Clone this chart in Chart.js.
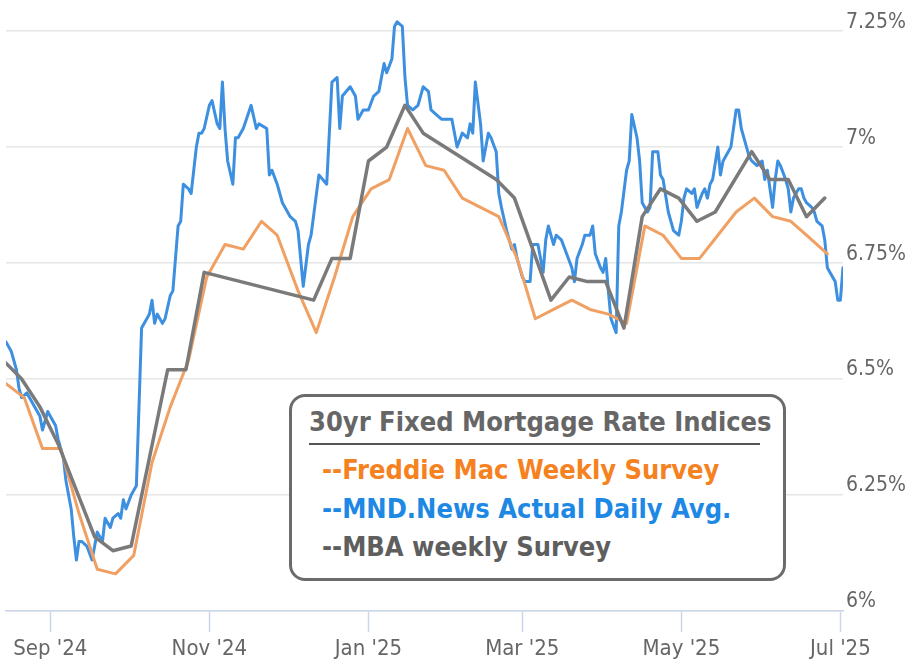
<!DOCTYPE html>
<html>
<head>
<meta charset="utf-8">
<title>30yr Fixed Mortgage Rate Indices</title>
<script src="https://cdn.jsdelivr.net/npm/chart.js@4.4.1/dist/chart.umd.min.js"></script>
<style>
  body { margin: 0; background: #fff; }
  #wrap { position: relative; width: 914px; height: 666px; }
  #legendBox {
    position: absolute; left: 289px; top: 394px; width: 491px; height: 181px;
    border: 3px solid #6b6b6b; border-radius: 16px; background: #fff;
    font-family: "DejaVu Sans Condensed", "DejaVu Sans", sans-serif; font-weight: bold;
  }
  #legendBox .ttl {
    position: absolute; top: 4px; left: 17px; width: 451px; height: 42px;
    line-height: 42px; text-align: center; font-size: 27px; color: #666;
    border-bottom: 2.5px solid #555; white-space: nowrap;
  }
  #legendBox .items { position: absolute; top: 54px; left: 30px; font-size: 27px; line-height: 38.5px; white-space: nowrap; }
</style>
</head>
<body>
<div id="wrap">
  <canvas id="rates" width="914" height="666"></canvas>
  <div id="legendBox"></div>
</div>
<script>
// axis range and ticks
const xStart = '2024-08-15';
const xEnd = '2025-07-02';
const monthTicks = ['2024-09-01', '2024-11-01', '2025-01-01', '2025-03-01', '2025-05-01', '2025-07-01'];
const monthLabels = ["Sep '24", "Nov '24", "Jan '25", "Mar '25", "May '25", "Jul '25"];
const rateTicks = [6, 6.25, 6.5, 6.75, 7, 7.25];

const legendTitle = '30yr Fixed Mortgage Rate Indices';
const seriesNames = ['Freddie Mac Weekly Survey', 'MND.News Actual Daily Avg.', 'MBA weekly Survey'];

// Freddie Mac weekly survey
const freddieDates = ['2024-08-15','2024-08-22','2024-08-29','2024-09-05','2024-09-12','2024-09-19','2024-09-26',
  '2024-10-03','2024-10-10','2024-10-17','2024-10-24','2024-10-31','2024-11-07','2024-11-14','2024-11-21','2024-11-27',
  '2024-12-05','2024-12-12','2024-12-19','2024-12-26','2025-01-02','2025-01-09','2025-01-16','2025-01-23','2025-01-30',
  '2025-02-06','2025-02-13','2025-02-20','2025-02-27','2025-03-06','2025-03-13','2025-03-20','2025-03-27','2025-04-03',
  '2025-04-10','2025-04-17','2025-04-24','2025-05-01','2025-05-08','2025-05-15','2025-05-22','2025-05-29','2025-06-05',
  '2025-06-12','2025-06-18','2025-06-26'];
const freddieRates = [6.49,6.46,6.35,6.35,6.21,6.09,6.08,
  6.12,6.32,6.44,6.54,6.72,6.79,6.78,6.84,6.81,
  6.69,6.60,6.72,6.85,6.91,6.93,7.04,6.96,6.95,
  6.89,6.87,6.85,6.76,6.63,6.65,6.67,6.65,6.64,
  6.62,6.83,6.81,6.76,6.76,6.81,6.86,6.89,6.85,
  6.84,6.81,6.77];

// MBA weekly survey
const mbaDates = ['2024-08-14','2024-08-21','2024-08-28','2024-09-04','2024-09-11','2024-09-18','2024-09-25',
  '2024-10-02','2024-10-16','2024-10-23','2024-10-30','2024-12-11','2024-12-18','2024-12-25','2025-01-01',
  '2025-01-08','2025-01-15','2025-01-22','2025-02-19','2025-02-26','2025-03-12','2025-03-19','2025-03-26',
  '2025-04-02','2025-04-09','2025-04-16','2025-04-23','2025-04-30','2025-05-07','2025-05-14','2025-05-28',
  '2025-06-04','2025-06-11','2025-06-18','2025-06-25'];
const mbaRates = [6.54,6.50,6.44,6.36,6.26,6.16,6.13,
  6.14,6.52,6.52,6.73,6.67,6.76,6.76,6.97,
  7.00,7.09,7.03,6.93,6.89,6.67,6.72,6.71,
  6.71,6.61,6.85,6.91,6.89,6.84,6.86,6.99,
  6.93,6.93,6.85,6.89];

// MND daily index
const mndDates = ['2024-08-15','2024-08-17','2024-08-19','2024-08-20','2024-08-21','2024-08-23','2024-08-25','2024-08-27',
  '2024-08-28','2024-08-29','2024-08-31','2024-09-01','2024-09-03','2024-09-04','2024-09-06','2024-09-07','2024-09-09',
  '2024-09-10','2024-09-11','2024-09-12','2024-09-13','2024-09-15','2024-09-17','2024-09-18','2024-09-19','2024-09-21',
  '2024-09-22','2024-09-24','2024-09-25','2024-09-27','2024-09-28','2024-09-29','2024-09-30','2024-10-02','2024-10-04',
  '2024-10-06','2024-10-08','2024-10-09','2024-10-10','2024-10-11','2024-10-12','2024-10-14','2024-10-15','2024-10-17',
  '2024-10-18','2024-10-20','2024-10-21','2024-10-22','2024-10-24','2024-10-25','2024-10-27','2024-10-28','2024-10-29',
  '2024-10-30','2024-11-01','2024-11-02','2024-11-04','2024-11-05','2024-11-06','2024-11-07','2024-11-08','2024-11-10',
  '2024-11-11','2024-11-12','2024-11-14','2024-11-17','2024-11-19','2024-11-20','2024-11-23','2024-11-24','2024-11-25',
  '2024-11-27','2024-11-29','2024-12-02','2024-12-04','2024-12-05','2024-12-07','2024-12-09','2024-12-10','2024-12-13',
  '2024-12-16','2024-12-18','2024-12-20','2024-12-21','2024-12-22','2024-12-25','2024-12-27','2024-12-28','2024-12-30',
  '2025-01-01','2025-01-03','2025-01-05','2025-01-07','2025-01-08','2025-01-10','2025-01-11','2025-01-12','2025-01-14',
  '2025-01-15','2025-01-16','2025-01-18','2025-01-20','2025-01-22','2025-01-24','2025-01-25','2025-01-27','2025-01-29',
  '2025-02-02','2025-02-04','2025-02-06','2025-02-08','2025-02-09','2025-02-10','2025-02-11','2025-02-13','2025-02-14',
  '2025-02-16','2025-02-17','2025-02-19','2025-02-20','2025-02-21','2025-02-23','2025-02-25','2025-02-26','2025-02-27',
  '2025-03-01','2025-03-02','2025-03-04','2025-03-05','2025-03-07','2025-03-09','2025-03-10','2025-03-11','2025-03-13',
  '2025-03-14','2025-03-16','2025-03-18','2025-03-20','2025-03-21','2025-03-22','2025-03-24','2025-03-25','2025-03-27',
  '2025-03-28','2025-03-29','2025-03-31','2025-04-01','2025-04-02','2025-04-03','2025-04-04','2025-04-06','2025-04-07',
  '2025-04-08','2025-04-10','2025-04-11','2025-04-12','2025-04-14','2025-04-15','2025-04-16','2025-04-18','2025-04-19',
  '2025-04-20','2025-04-22','2025-04-23','2025-04-24','2025-04-26','2025-04-28','2025-04-30','2025-05-01','2025-05-02',
  '2025-05-03','2025-05-05','2025-05-06','2025-05-07','2025-05-09','2025-05-10','2025-05-11','2025-05-12','2025-05-13',
  '2025-05-15','2025-05-16','2025-05-17','2025-05-19','2025-05-20','2025-05-21','2025-05-22','2025-05-23','2025-05-24',
  '2025-05-26','2025-05-27','2025-05-28','2025-05-30','2025-06-01','2025-06-02','2025-06-03','2025-06-05','2025-06-06',
  '2025-06-07','2025-06-08','2025-06-10','2025-06-11','2025-06-12','2025-06-13','2025-06-15','2025-06-16','2025-06-17',
  '2025-06-18','2025-06-20','2025-06-21','2025-06-22','2025-06-24','2025-06-25','2025-06-26','2025-06-28','2025-06-29',
  '2025-06-30','2025-07-01','2025-07-02'];
const mndRates = [6.58,6.56,6.52,6.48,6.46,6.47,6.45,6.43,
  6.42,6.39,6.43,6.42,6.40,6.37,6.33,6.28,6.22,
  6.16,6.11,6.15,6.15,6.14,6.11,6.14,6.17,6.15,
  6.20,6.18,6.20,6.21,6.20,6.24,6.22,6.25,6.27,
  6.61,6.63,6.64,6.67,6.62,6.64,6.62,6.63,6.68,
  6.69,6.83,6.84,6.92,6.91,6.90,7.00,7.03,7.03,
  7.04,7.09,7.10,7.05,7.04,7.14,7.04,6.97,6.92,
  7.02,7.02,7.04,7.09,7.04,7.05,7.04,6.94,6.95,
  6.92,6.88,6.85,6.84,6.82,6.70,6.79,6.81,6.94,
  6.92,7.14,7.15,7.04,7.11,7.13,7.11,7.06,7.08,
  7.08,7.11,7.12,7.18,7.16,7.19,7.26,7.27,7.26,
  7.15,7.09,7.08,7.09,7.13,7.12,7.08,7.07,7.06,
  7.06,7.00,7.03,7.02,7.05,7.03,7.14,7.05,6.97,
  7.03,7.02,6.99,6.90,6.87,6.82,6.78,6.79,6.76,
  6.72,6.71,6.71,6.79,6.79,6.73,6.80,6.83,6.79,
  6.81,6.80,6.77,6.74,6.71,6.76,6.79,6.81,6.81,
  6.83,6.77,6.74,6.73,6.76,6.69,6.63,6.60,6.83,
  6.86,6.95,6.97,7.07,7.02,6.97,6.88,6.86,6.87,
  6.99,6.99,6.94,6.93,6.86,6.82,6.81,6.84,6.89,
  6.91,6.90,6.91,6.87,6.90,6.91,6.89,6.92,6.93,
  7.00,6.94,6.97,6.99,7.00,7.04,7.08,7.08,7.04,
  7.00,6.98,6.97,6.96,6.97,6.93,6.95,6.87,6.93,
  6.97,6.96,6.93,6.91,6.86,6.89,6.91,6.91,6.89,
  6.88,6.87,6.86,6.84,6.83,6.80,6.74,6.72,6.71,
  6.67,6.67,6.74];

const day = s => Date.parse(s + 'T00:00:00Z') / 86400000;
const toPoints = (dates, rates) => dates.map((d, i) => ({ x: day(d), y: rates[i] }));

const fontFamily = '"DejaVu Sans Condensed", "DejaVu Sans", sans-serif';
const lineColors = ['#f0a062', '#3d8fe0', '#7a7a7a'];
const legendColors = ['#f5821f', '#1e88e5', '#5e5e5e'];

// drop the extra room Chart.js keeps for edge labels
const noEdgePadding = s => { s.paddingTop = 0; s.paddingBottom = 0; s.paddingLeft = 0; s.paddingRight = 0; };

const chart = new Chart(document.getElementById('rates'), {
  type: 'line',
  data: {
    datasets: [
      { label: seriesNames[0], data: toPoints(freddieDates, freddieRates), borderColor: lineColors[0], borderWidth: 3, order: 1 },
      { label: seriesNames[1], data: toPoints(mndDates, mndRates), borderColor: lineColors[1], borderWidth: 3, order: 2 },
      { label: seriesNames[2], data: toPoints(mbaDates, mbaRates), borderColor: lineColors[2], borderWidth: 3.5, order: 0 }
    ]
  },
  options: {
    responsive: false,
    animation: false,
    elements: {
      point: { radius: 0 },
      line: { tension: 0, borderJoinStyle: 'round', borderCapStyle: 'round' }
    },
    layout: { padding: { left: 6, top: 0, right: 0, bottom: 0 } },
    plugins: { legend: { display: false }, tooltip: { enabled: false } },
    scales: {
      x: {
        type: 'linear',
        min: day(xStart),
        max: day(xEnd),
        afterBuildTicks: s => { s.ticks = monthTicks.map(m => ({ value: day(m) })); },
        afterFit: s => { s.height = 55; noEdgePadding(s); },
        ticks: {
          callback: (v, i) => monthLabels[i],
          autoSkip: false, maxRotation: 0, padding: 4,
          color: '#666', font: { family: fontFamily, size: 22 }
        },
        grid: { drawOnChartArea: false, tickLength: 21, tickColor: '#ccd6eb', tickWidth: 1.5 },
        border: { color: '#ccd6eb', width: 1.5 }
      },
      y: {
        position: 'right',
        min: 6,
        max: 7.317,
        afterBuildTicks: s => { s.ticks = rateTicks.map(v => ({ value: v })); },
        afterFit: s => { s.width = 71; noEdgePadding(s); },
        ticks: {
          callback: v => v + '%',
          padding: 3, labelOffset: -9,
          color: '#666', font: { family: fontFamily, size: 21 }
        },
        grid: { color: '#e6e6e6', lineWidth: 1.5, drawTicks: false },
        border: { display: false }
      }
    }
  }
});

// boxed legend built from the datasets
const box = document.getElementById('legendBox');
const ttl = document.createElement('div');
ttl.className = 'ttl';
ttl.textContent = legendTitle;
box.appendChild(ttl);
const items = document.createElement('div');
items.className = 'items';
chart.data.datasets.forEach((ds, i) => {
  const row = document.createElement('div');
  row.style.color = legendColors[i];
  row.textContent = '--' + ds.label;
  items.appendChild(row);
});
box.appendChild(items);
</script>
</body>
</html>
